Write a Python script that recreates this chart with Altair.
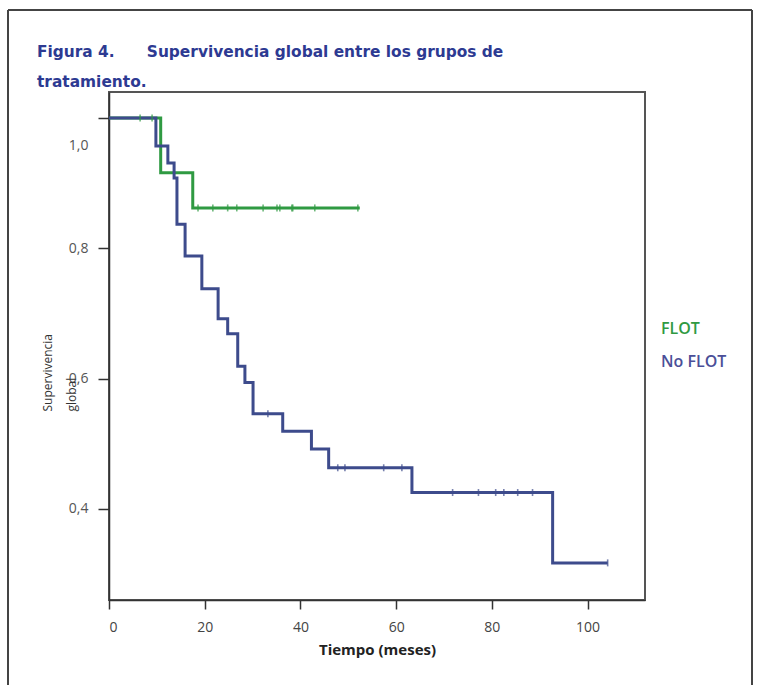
import altair as alt
import pandas as pd

# Kaplan-Meier steps (month of event, survival after event)
flot_times = [0, 10.8, 17.5, 52.4]
flot_surv = [1.0, 0.916, 0.862, 0.862]
noflot_times = [0, 9.8, 12.3, 13.6, 14.2, 15.9, 19.4, 22.8, 24.8, 26.9, 28.4, 30.1,
                36.3, 42.3, 45.9, 63.3, 92.7, 104.2]
noflot_surv = [1.0, 0.957, 0.931, 0.908, 0.837, 0.788, 0.738, 0.692, 0.669, 0.619,
               0.594, 0.546, 0.519, 0.492, 0.463, 0.425, 0.317, 0.317]

# censoring marks (months)
flot_cens = [6.5, 9.0, 18.6, 21.7, 24.8, 26.7, 32.2, 35.1, 35.7, 38.2, 38.4, 43.0, 52.0]
noflot_cens = [33.2, 47.8, 49.3, 57.4, 61.2, 71.8, 77.2, 80.8, 82.5, 85.4, 88.5, 104.2]

groups = ["FLOT", "No FLOT"]
colors = ["#2f9a42", "#3d4b8c"]
x_ticks = [0, 20, 40, 60, 80, 100]
y_ticks = [0.4, 0.6, 0.8, 1.0]
title_lines = ["Figura 4." + "\u00a0" * 6 + "Supervivencia global entre los grupos de",
               "tratamiento."]


def level(times, surv, t):
    v = surv[0]
    for tt, s in zip(times, surv):
        if tt <= t:
            v = s
    return v


rows = []
for g, ts, ss in [("FLOT", flot_times, flot_surv), ("No FLOT", noflot_times, noflot_surv)]:
    for t, s in zip(ts, ss):
        rows.append({"grupo": g, "t": t, "s": s})
lines_df = pd.DataFrame(rows)

crow = []
for g, cs, ts, ss in [("FLOT", flot_cens, flot_times, flot_surv),
                      ("No FLOT", noflot_cens, noflot_times, noflot_surv)]:
    for c in cs:
        crow.append({"grupo": g, "t": c, "s": level(ts, ss, c)})
cens_df = pd.DataFrame(crow)

color_scale = alt.Scale(domain=groups, range=colors)
xs = alt.Scale(domain=[0, 112], nice=False, zero=False)
ys = alt.Scale(domain=[0.26, 1.04], nice=False, zero=False)

x_axis = alt.Axis(values=x_ticks, title="Tiempo (meses)", grid=False,
                  labelFont="Open Sans", labelFontSize=14, labelColor="#444",
                  titleFont="Open Sans", titleFontSize=15, titleFontWeight="bold",
                  titleColor="#222", tickSize=9, tickColor="#333", tickWidth=1.5,
                  domainColor="#333", domainWidth=1.5, labelPadding=11, titlePadding=8)
y_axis = alt.Axis(values=y_ticks, title=["Supervivencia", "global"], grid=False,
                  labelExpr="replace(format(datum.value, '.1f'), '.', ',')",
                  labelFont="Open Sans", labelFontSize=14, labelColor="#555",
                  labelOffset=alt.expr("datum.value == 1 ? 27 : 0"),
                  titleFont="Open Sans", titleFontSize=12, titleColor="#333",
                  titleFontWeight="normal", titleX=-62, titleY=319,
                  titleAlign="left", titleBaseline="middle", titleLineHeight=24,
                  tickSize=11, tickColor="#333", tickWidth=1.5,
                  domainColor="#333", domainWidth=1.5, labelPadding=10)

lines = alt.Chart(lines_df).mark_line(interpolate="step-after", strokeWidth=3).encode(
    x=alt.X("t:Q", scale=xs, axis=x_axis),
    y=alt.Y("s:Q", scale=ys, axis=y_axis),
    color=alt.Color("grupo:N", scale=color_scale,
                    legend=alt.Legend(title=None, orient="none", legendX=532, legendY=229,
                                      symbolOpacity=0, symbolSize=10, symbolStrokeWidth=0,
                                      labelFont="Open Sans", labelFontSize=16,
                                      labelFontWeight=600,
                                      labelColor=alt.expr("datum.value == 'FLOT' ? '#2f9a42' : '#4b4f98'"),
                                      rowPadding=17)),
    detail="grupo:N",
)

cens = alt.Chart(cens_df).mark_tick(orient="vertical", size=7, thickness=1.6).encode(
    x=alt.X("t:Q", scale=xs),
    y=alt.Y("s:Q", scale=ys),
    color=alt.Color("grupo:N", scale=color_scale, legend=None),
)

one = pd.DataFrame({"d": [0]})
frame_left = alt.Chart(one).mark_rule(color="#444", strokeWidth=2).encode(
    x=alt.value(-101), y=alt.value(-82), y2=alt.value(600))
frame_top = alt.Chart(one).mark_rule(color="#444", strokeWidth=2).encode(
    x=alt.value(-101), x2=alt.value(643), y=alt.value(-82))
frame_right = alt.Chart(one).mark_rule(color="#444", strokeWidth=2).encode(
    x=alt.value(643), y=alt.value(-82), y2=alt.value(600))

chart = alt.layer(lines, cens, frame_left, frame_top, frame_right).properties(
    width=536, height=508,
    autosize=alt.AutoSizeParams(type="none"),
    padding={"left": 109, "top": 92, "right": 117, "bottom": 85},
    title=alt.TitleParams(
        text=title_lines,
        anchor="start", frame="group", dx=-72, offset=-81, font="DejaVu Sans", fontSize=15.4,
        fontWeight="bold", color="#2d3a92", lineHeight=30),
    background="white",
).configure_view(stroke="#555", strokeWidth=2)

chart.save("out.html", embed_options={"renderer": "svg", "actions": False})
